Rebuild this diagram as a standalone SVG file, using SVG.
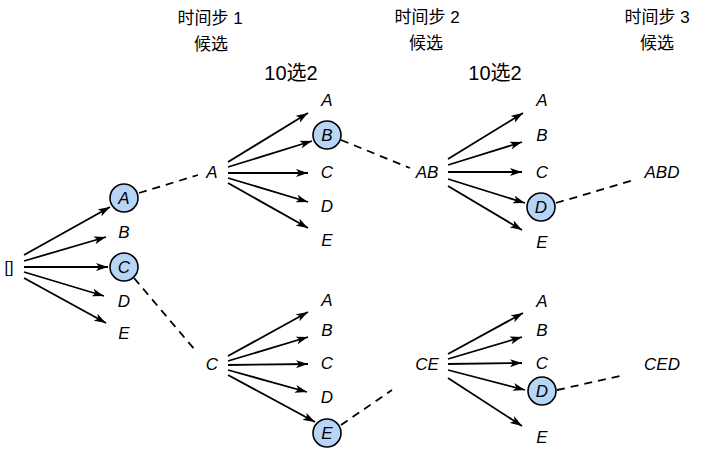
<svg xmlns="http://www.w3.org/2000/svg" width="704" height="455" viewBox="0 0 704 455">
<defs>
<marker id="ah" viewBox="0 0 12 8" refX="12" refY="4" markerWidth="12" markerHeight="8" markerUnits="userSpaceOnUse" orient="auto">
<path d="M0,0 L12,4 L0,8 L3,4 Z" fill="#000"/>
</marker>
<style>
.t{font-family:"Liberation Sans","Noto Sans CJK SC",sans-serif;fill:#000;text-anchor:middle;dominant-baseline:central}
.h{font-size:17px}
.k{font-size:20px}
.l{font-size:17px;font-style:italic}
.r{font-size:16px}
.a{stroke:#000;stroke-width:1.8;fill:none;marker-end:url(#ah)}
.d{stroke:#000;stroke-width:1.8;fill:none;stroke-dasharray:8,6}
.c{fill:#b7d5f7;stroke:#000;stroke-width:1.6}
</style>
</defs>
<rect width="704" height="455" fill="#fff"/>
<g id="headers">
<text class="t h" x="210" y="18">时间步 1</text>
<text class="t h" x="211" y="44">候选</text>
<text class="t h" x="427" y="17">时间步 2</text>
<text class="t h" x="426" y="43">候选</text>
<text class="t h" x="657" y="17">时间步 3</text>
<text class="t h" x="657" y="43">候选</text>
<text class="t k" x="291" y="73">10选2</text>
<text class="t k" x="495" y="73">10选2</text>
</g>
<g id="connectors">
<line class="a" x1="24" y1="255" x2="110" y2="207"/>
<line class="a" x1="24" y1="261" x2="106" y2="237"/>
<line class="a" x1="24" y1="267" x2="108" y2="267"/>
<line class="a" x1="24" y1="272" x2="104" y2="296"/>
<line class="a" x1="24" y1="278" x2="106" y2="323"/>
<line class="d" x1="139" y1="193" x2="198" y2="175"/>
<line class="d" x1="134" y1="278" x2="195" y2="350"/>
<line class="a" x1="228" y1="162" x2="308" y2="113"/>
<line class="a" x1="228" y1="167" x2="312" y2="141"/>
<line class="a" x1="228" y1="173" x2="308" y2="173"/>
<line class="a" x1="228" y1="178" x2="308" y2="202"/>
<line class="a" x1="228" y1="183" x2="308" y2="228"/>
<line class="d" x1="341" y1="140" x2="410" y2="168"/>
<line class="a" x1="448" y1="159" x2="523" y2="113"/>
<line class="a" x1="448" y1="165" x2="522" y2="142"/>
<line class="a" x1="448" y1="172" x2="522" y2="172"/>
<line class="a" x1="448" y1="179" x2="525" y2="203"/>
<line class="a" x1="448" y1="186" x2="522" y2="230"/>
<line class="d" x1="556" y1="203" x2="634" y2="180"/>
<line class="a" x1="228" y1="356" x2="308" y2="312"/>
<line class="a" x1="228" y1="361" x2="308" y2="337"/>
<line class="a" x1="228" y1="365" x2="308" y2="364"/>
<line class="a" x1="228" y1="370" x2="307" y2="392"/>
<line class="a" x1="228" y1="375" x2="315" y2="422"/>
<line class="d" x1="341" y1="425" x2="392" y2="390"/>
<line class="a" x1="448" y1="354" x2="523" y2="313"/>
<line class="a" x1="448" y1="359" x2="522" y2="337"/>
<line class="a" x1="448" y1="364" x2="522" y2="363"/>
<line class="a" x1="448" y1="370" x2="525" y2="390"/>
<line class="a" x1="448" y1="378" x2="522" y2="426"/>
<line class="d" x1="557" y1="390" x2="625" y2="375"/>
</g>
<g id="root"><text class="t r" x="9" y="267">[]</text></g>
<g id="l1">
<g id="n1A"><circle class="c" cx="124" cy="198" r="14"/><text class="t l" x="124" y="198">A</text></g>
<g id="n1B"><text class="t l" x="124" y="232">B</text></g>
<g id="n1C"><circle class="c" cx="124" cy="267" r="14"/><text class="t l" x="124" y="267">C</text></g>
<g id="n1D"><text class="t l" x="124" y="301">D</text></g>
<g id="n1E"><text class="t l" x="124" y="333">E</text></g>
</g>
<g id="l2">
<g id="nA"><text class="t l" x="212" y="172">A</text></g>
<g id="nC"><text class="t l" x="212" y="364">C</text></g>
<g id="nAB"><text class="t l" x="427" y="172">AB</text></g>
<g id="nCE"><text class="t l" x="427" y="364">CE</text></g>
<g id="nABD"><text class="t l" x="662" y="172">ABD</text></g>
<g id="nCED"><text class="t l" x="662" y="364">CED</text></g>
</g>
<g id="c2u">
<g id="uA"><text class="t l" x="327" y="100">A</text></g>
<g id="uB"><circle class="c" cx="327" cy="135" r="14"/><text class="t l" x="327" y="135">B</text></g>
<g id="uC"><text class="t l" x="327" y="172">C</text></g>
<g id="uD"><text class="t l" x="327" y="206">D</text></g>
<g id="uE"><text class="t l" x="327" y="240">E</text></g>
</g>
<g id="c2l">
<g id="lA"><text class="t l" x="327" y="300">A</text></g>
<g id="lB"><text class="t l" x="327" y="330">B</text></g>
<g id="lC"><text class="t l" x="327" y="363">C</text></g>
<g id="lD"><text class="t l" x="327" y="397">D</text></g>
<g id="lE"><circle class="c" cx="327" cy="433" r="14"/><text class="t l" x="327" y="433">E</text></g>
</g>
<g id="c3u">
<g id="vA"><text class="t l" x="542" y="100">A</text></g>
<g id="vB"><text class="t l" x="542" y="135">B</text></g>
<g id="vC"><text class="t l" x="542" y="172">C</text></g>
<g id="vD"><circle class="c" cx="541" cy="207" r="14"/><text class="t l" x="541" y="207">D</text></g>
<g id="vE"><text class="t l" x="542" y="242">E</text></g>
</g>
<g id="c3l">
<g id="wA"><text class="t l" x="542" y="301">A</text></g>
<g id="wB"><text class="t l" x="542" y="330">B</text></g>
<g id="wC"><text class="t l" x="542" y="363">C</text></g>
<g id="wD"><circle class="c" cx="542" cy="391" r="14"/><text class="t l" x="542" y="391">D</text></g>
<g id="wE"><text class="t l" x="542" y="437">E</text></g>
</g>
</svg>
